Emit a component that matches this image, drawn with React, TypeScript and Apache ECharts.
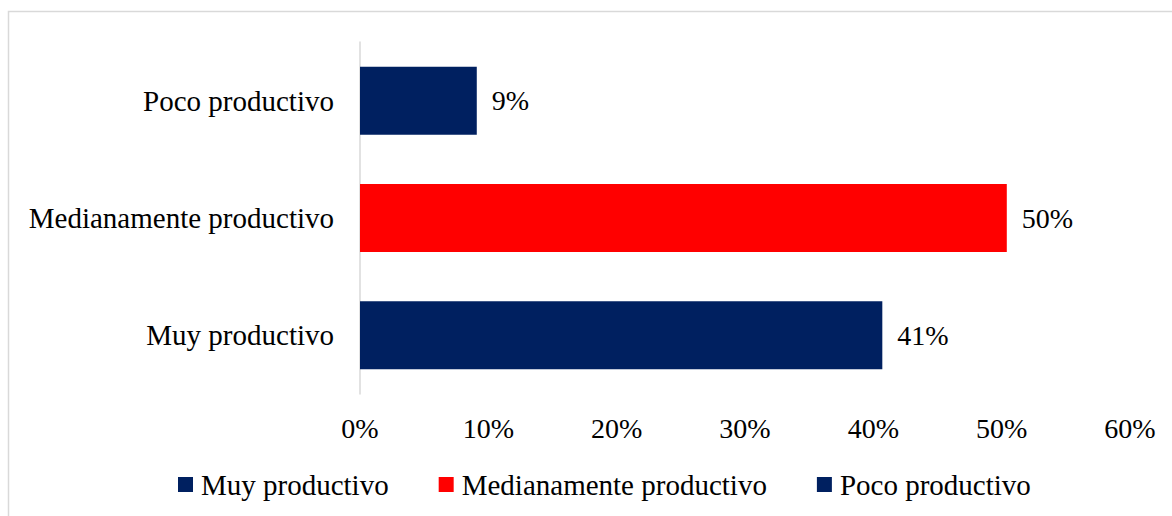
import React, { useEffect, useRef } from "react";
import * as echarts from "echarts";

const categories = ["Muy productivo", "Medianamente productivo", "Poco productivo"];
const values = [40.7, 50.4, 9.1];
const colors = ["#002060", "#FF0000", "#002060"];
const tickValues = [0, 10, 20, 30, 40, 50, 60];

const FONT = "'Liberation Serif', 'Times New Roman', serif";

export default function App() {
  const ref = useRef<HTMLDivElement>(null);
  useEffect(() => {
    document.body.style.margin = "0";
    const chart = echarts.init(ref.current!, undefined, { renderer: "svg" });
    const series = categories.map((name, i) => ({
      name,
      type: "bar",
      stack: "total",
      barCategoryGap: "42%",
      itemStyle: { color: colors[i] },
      data: categories.map((_, j) => (j === i ? values[i] : "-")),
      label: {
        show: true,
        position: "right",
        distance: 15,
        fontFamily: FONT,
        fontSize: 28,
        color: "#000",
        formatter: (p: any) => Math.round(p.value) + "%",
      },
    }));
    chart.setOption({
      animation: false,
      graphic: [
        {
          type: "rect",
          shape: { x: 8.5, y: 11.5, width: 1300, height: 700 },
          style: { fill: "none", stroke: "#d9d9d9", lineWidth: 1.5 },
          silent: true,
        },
      ],
      grid: { left: 360, right: 42, top: 42, bottom: 122 },
      xAxis: {
        type: "value",
        min: tickValues[0],
        max: tickValues[tickValues.length - 1],
        interval: 10,
        axisLine: { show: false },
        axisTick: { show: false },
        splitLine: { show: false },
        axisLabel: {
          formatter: (v: number) => v + "%",
          fontFamily: FONT,
          fontSize: 28,
          color: "#000",
          margin: 20,
        },
      },
      yAxis: {
        type: "category",
        data: categories,
        axisLine: { show: true, lineStyle: { color: "#d9d9d9", width: 1.5 } },
        axisTick: { show: false },
        axisLabel: {
          fontFamily: FONT,
          fontSize: 29,
          color: "#000",
          margin: 26,
        },
      },
      legend: {
        left: 178,
        top: 470,
        padding: 0,
        itemWidth: 15,
        itemHeight: 15,
        itemGap: 50,
        icon: "rect",
        data: categories,
        textStyle: { fontFamily: FONT, fontSize: 29, color: "#000", padding: [0, 0, 0, 3] },
      },
      series,
    });
    return () => chart.dispose();
  }, []);
  return <div ref={ref} style={{ width: 1172, height: 516 }} />;
}
